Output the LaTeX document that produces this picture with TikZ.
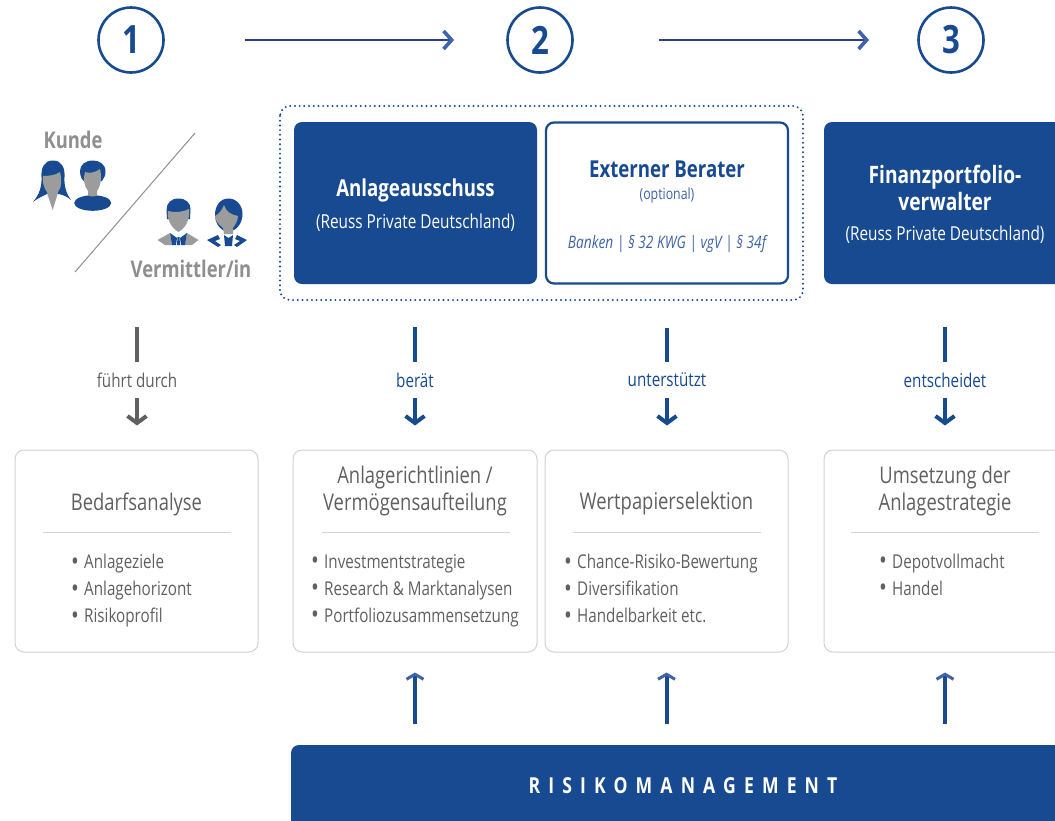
\documentclass[tikz,border=0pt]{standalone}
\usepackage{fontspec}
\setmainfont[FakeStretch=0.8]{Open Sans}
\usetikzlibrary{arrows.meta}
\definecolor{rblue}{HTML}{174A90}
\definecolor{rhead}{HTML}{3F63A8}
\definecolor{rnavy}{HTML}{2A3F88}
\definecolor{rgrey}{HTML}{8F8F8F}
\definecolor{rface}{HTML}{9C9C9C}
\definecolor{rtext}{HTML}{606060}
\definecolor{rline}{HTML}{D2D2D2}
\newcommand\tb{\makebox[13pt][l]{\smash{\raisebox{-1.6pt}{\fontsize{26}{26}\selectfont\textbullet}}}}
\tikzset{
 numcircle/.style={circle,draw=rblue,line width=2.6pt,minimum size=65pt,inner sep=0pt,text=rblue,font=\fontsize{39}{39}\selectfont\bfseries},
 flowarrow/.style={rnavy,line width=2.6pt,-{Straight Barb[color=rhead,line width=3.6pt,length=8pt,width=18pt]}},
 solidbox/.style={rectangle,rounded corners=8pt,fill=rblue,text=white,minimum height=162pt,align=center},
 openbox/.style={rectangle,rounded corners=8pt,draw=rblue,line width=2.2pt,fill=white,text=rblue,minimum height=161pt},
 taskbox/.style={rectangle,rounded corners=9pt,draw=rline,line width=1pt,fill=white,minimum height=202pt},
 tasktitle/.style={text=rtext,align=center,font=\fontsize{23}{27}\selectfont},
 tasklist/.style={text=rtext,anchor=west,align=left,inner sep=0pt,font=\fontsize{19}{27}\selectfont},
 verb/.style={minimum height=35pt,inner sep=0pt,font=\fontsize{19}{19}\selectfont},
 stem/.style={line width=4pt},
 stemarrow/.style={line width=4pt,-{Straight Barb[line width=4pt,length=7pt,width=19pt]}},
 upone/.style={rblue,line width=4pt,-{Straight Barb[color=rhead,line width=3pt,length=5pt,width=17pt]}},
}
\begin{document}
\begin{tikzpicture}[x=1pt,y=-1pt]
 \useasboundingbox (0,0) rectangle (1055,820);
 \clip (0,0) rectangle (1055,820);
 \fill[white] (0,0) rectangle (1055,820);
 %steps
 \node[numcircle] (step1) at (131,40) {1};
 \node[numcircle] (step2) at (540,40) {2};
 \node[numcircle] (step3) at (951,40) {3};
 \coordinate (flow1a) at (245,40);
 \coordinate (flow1b) at (454,40);
 \coordinate (flow2a) at (659,40);
 \coordinate (flow2b) at (869,40);
 \draw[flowarrow] (flow1a)--(flow1b);
 \draw[flowarrow] (flow2a)--(flow2b);
 %left corner
 \node[text=rgrey,font=\fontsize{23}{23}\selectfont\bfseries] (kunde) at (73,140) {Kunde};
 \node[text=rgrey,font=\fontsize{23}{23}\selectfont\bfseries] (vermittler) at (191,269) {Vermittler/in};
 \coordinate (diag1) at (195,133);
 \coordinate (diag2) at (75,272);
 \draw[rgrey,line width=1pt] (diag1)--(diag2);
 %Kunde, woman
 \fill[rblue] (53,160.5) .. controls (44,160.5) and (41,168) .. (41.5,177) .. controls (42,187) and (39,195) .. (33,202) .. controls (38,198) and (43,196) .. (47,194) -- (59,194) .. controls (63,195) and (68,197) .. (71,200) .. controls (66,193) and (64,186) .. (64.5,177) .. controls (65,168) and (62,160.5) .. (53,160.5)--cycle;
 \fill[rface] (60,172) .. controls (62,180) and (62,187) .. (58,192) -- (57,196) -- (52.7,210) -- (48,196) -- (47,192) .. controls (43,187) and (42.5,181) .. (43,176) .. controls (49,176) and (56,175) .. (60,172)--cycle;
 %Kunde, man
 \fill[rblue] (92.7,203) ellipse (18.5pt and 7.8pt);
 \fill[rblue] (93,160.5) .. controls (85,160.5) and (80,165) .. (80,171) .. controls (80,176) and (82,180) .. (84,181) -- (102,181) .. controls (104,178) and (106,175) .. (105.5,170) .. controls (105,165) and (100,160.5) .. (93,160.5)--cycle;
 \fill[rface] (85,172) .. controls (90,174) and (96,172) .. (100,169) .. controls (102,176) and (101,186) .. (97,191) -- (97,195) .. controls (95,197) and (90,197) .. (88,195) -- (88,191) .. controls (84,186) and (83,178) .. (85,172)--cycle;
 %Vermittler, man
 \fill[rblue] (178.5,198.5) .. controls (171,198.5) and (166.5,203) .. (166.5,210) -- (167,219) -- (190,219) -- (190.5,209) .. controls (190.5,203) and (186,198.5) .. (178.5,198.5)--cycle;
 \fill[rface] (168,211) .. controls (175,213) and (183,212) .. (189,209) .. controls (190,218) and (187,227) .. (178.5,232) .. controls (170,227) and (167,218) .. (168,211)--cycle;
 \fill[rface] (157.5,240) -- (170,233) -- (172,245) -- (165,245)--cycle;
 \fill[rface] (198.5,240) -- (187,233) -- (185,245) -- (192,245)--cycle;
 \fill[rblue] (170,233) -- (177,238) -- (176,245) -- (172,245)--cycle;
 \fill[rblue] (187,233) -- (180,238) -- (181,245) -- (185,245)--cycle;
 \fill[rblue] (177.5,237) -- (179.5,237) -- (180,245) -- (177,245)--cycle;
 %Vermittler, woman
 \fill[rblue] (228.5,198.5) .. controls (220,198.5) and (215,206) .. (215,215) .. controls (215,224) and (221,231) .. (228,232) .. controls (236,231) and (242.5,224) .. (242.5,214) .. controls (242.5,206) and (237,198.5) .. (228.5,198.5)--cycle;
 \fill[rface] (224,205) .. controls (226,212) and (232,215) .. (238,216) .. controls (238,222) and (234,226) .. (233,228) -- (233,234) -- (224,234) -- (223,228) .. controls (218,224) and (214,219) .. (215,216) .. controls (219,214) and (222,210) .. (224,205)--cycle;
 \fill[rblue] (207,240) -- (218,235) -- (220,239) -- (215,241) -- (221,245) -- (218,247)--cycle;
 \fill[rblue] (247,240) -- (237,235) -- (235,239) -- (240,241) -- (234,245) -- (237,247)--cycle;
 \fill[rblue] (224,235) -- (228.5,238) -- (233,235) -- (232,246) -- (225,246)--cycle;
 %upper boxes
 \draw[rblue,line width=2.2pt,line cap=round,dash pattern=on 0pt off 4.7pt,rounded corners=10pt] (280,106) rectangle (803,300);
 \node[solidbox,minimum width=243pt] (ausschuss) at (415.5,203) {};
 \node[openbox,minimum width=242pt] (berater) at (667,203) {};
 \node[solidbox,minimum width=242pt] (verwalter) at (945,203) {};
 \node[text=white,font=\fontsize{23.3}{23.3}\selectfont\bfseries] (ausschusstitle) at (415.5,190) {Anlageausschuss};
 \node[text=white,font=\fontsize{19.2}{19.2}\selectfont] (ausschusssub) at (415.5,222.5) {(Reuss Private Deutschland)};
 \node[text=rblue,font=\fontsize{23.3}{23.3}\selectfont\bfseries] (beratertitle) at (667,169) {Externer Berater};
 \node[text=rhead,font=\fontsize{15.4}{15.4}\selectfont] (beratersub) at (667,195) {(optional)};
 \node[text=rhead,font=\fontsize{17.2}{17.2}\selectfont\itshape] (beraterlaw) at (667,243.5) {Banken | § 32 KWG | vgV | § 34f};
 \node[text=white,align=center,font=\fontsize{24}{27}\selectfont\bfseries] (verwaltertitle) at (945,188) {Finanzportfolio-\\verwalter};
 \node[text=white,font=\fontsize{19.2}{19.2}\selectfont] (verwaltersub) at (945,234.5) {(Reuss Private Deutschland)};
 %lower boxes
 \node[taskbox,minimum width=243pt] (task1) at (136.5,551) {};
 \node[taskbox,minimum width=244pt] (task2) at (415,551) {};
 \node[taskbox,minimum width=243pt] (task3) at (666.5,551) {};
 \node[taskbox,minimum width=242pt] (task4) at (945,551) {};
 \node[tasktitle] (title1) at (136.5,504) {Bedarfsanalyse};
 \node[tasktitle] (title2) at (415,491) {Anlagerichtlinien /\\Vermögensaufteilung};
 \node[tasktitle] (title3) at (666.5,504) {Wertpapierselektion};
 \node[tasktitle] (title4) at (945,491) {Umsetzung der\\Anlagestrategie};
 \draw[rline,line width=.8pt] (43,532)--(231,532);
 \draw[rline,line width=.8pt] (322,532)--(510,532);
 \draw[rline,line width=.8pt] (573,532)--(761,532);
 \draw[rline,line width=.8pt] (851,532)--(1039,532);
 \node[tasklist] (list1) at (71,590.5) {\tb Anlageziele\\\tb Anlagehorizont\\\tb Risikoprofil};
 \node[tasklist] (list2) at (311,590.5) {\tb Investmentstrategie\\\tb Research \& Marktanalysen\\\tb Portfoliozusammensetzung};
 \node[tasklist] (list3) at (564,588.5) {\tb Chance-Risiko-Bewertung\\\tb Diversifikation\\\tb Handelbarkeit etc.};
 \node[tasklist] (list4) at (879,574.5) {\tb Depotvollmacht\\\tb Handel};
 %verbs
 \node[verb,text=rtext] (verb1) at (137,380) {führt durch};
 \node[verb,text=rblue] (verb2) at (415,380) {berät};
 \node[verb,text=rblue] (verb3) at (667,380) {unterstützt};
 \node[verb,text=rblue] (verb4) at (945,380) {entscheidet};
 \coordinate (who) at (137,327);
 \draw[stem,rtext] (who)--(verb1);
 \draw[stem,rblue,shorten <=43pt] (ausschuss.south-|verb2)--(verb2);
 \draw[stem,rblue,shorten <=43pt] (berater.south-|verb3)--(verb3);
 \draw[stem,rblue,shorten <=43pt] (verwalter.south-|verb4)--(verb4);
 \draw[stemarrow,rtext,shorten >=24pt] (verb1)--(verb1|-task1.north);
 \draw[stemarrow,rblue,shorten >=24pt] (verb2)--(verb2|-task2.north);
 \draw[stemarrow,rblue,shorten >=24pt] (verb3)--(verb3|-task3.north);
 \draw[stemarrow,rblue,shorten >=24pt] (verb4)--(verb4|-task4.north);
 %risk bar
 \node[solidbox,minimum width=784pt,minimum height=105pt] (risk) at (683,797.5) {};
 \node[text=white,font=\fontsize{22}{22}\selectfont\bfseries\addfontfeatures{LetterSpace=37}] (risktitle) at (683,786) {RISIKOMANAGEMENT};
 \draw[upone,shorten <=21pt,shorten >=20pt] (risk.north-|task2.south)--(task2.south);
 \draw[upone,shorten <=21pt,shorten >=20pt] (risk.north-|task3.south)--(task3.south);
 \draw[upone,shorten <=21pt,shorten >=20pt] (risk.north-|task4.south)--(task4.south);
\end{tikzpicture}
\end{document}
